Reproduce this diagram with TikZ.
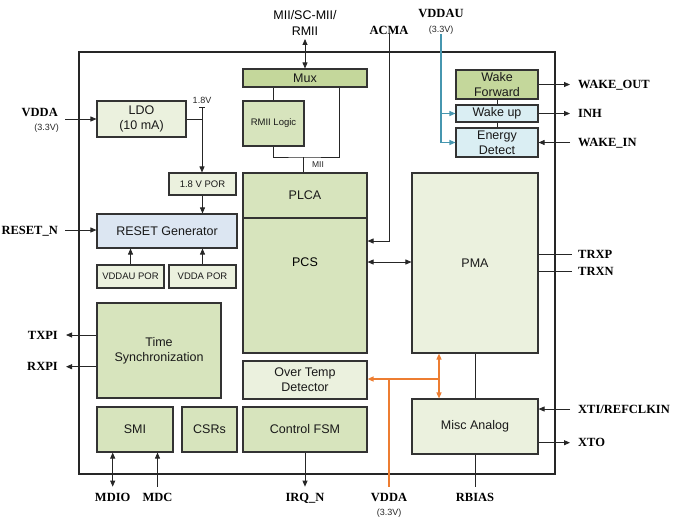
\documentclass[tikz,border=0pt]{standalone}
\usepackage{fontspec}
\setmainfont{Liberation Sans}
\newfontfamily\pinfont{Liberation Serif}
\usetikzlibrary{arrows.meta}
\definecolor{muxgreen}{RGB}{196,215,155}
\definecolor{blkgreen}{RGB}{215,228,189}
\definecolor{palegreen}{RGB}{235,241,222}
\definecolor{rstblue}{RGB}{220,230,242}
\definecolor{wakeblue}{RGB}{218,238,243}
\definecolor{vddorange}{RGB}{237,125,49}
\definecolor{vddteal}{RGB}{70,150,175}
\begin{document}
\begin{tikzpicture}[x=1pt,y=-1pt,
    >={Triangle[length=6pt,width=5pt]},
    blk/.style={draw=black!80,line width=1.1pt,inner sep=1pt,align=center,text=black!90,font=\fontsize{12.5}{15}\selectfont},
    small/.style={font=\fontsize{9}{11}\selectfont,text=black!85},
    pin/.style={font=\pinfont\bfseries\fontsize{12.5}{14}\selectfont,inner sep=0pt,text height=8.3pt,text depth=0pt},
    wire/.style={line width=0.8pt,draw=black!85},
    tealwire/.style={line width=1.2pt,draw=vddteal},
    orwire/.style={line width=1.3pt,draw=vddorange}]
    \useasboundingbox (0,0) rectangle (676,523);
    \draw[line width=1.8pt,black!85] (79,52) rectangle (555,474);

    \node[blk,fill=muxgreen,minimum width=124pt,minimum height=18pt] (mux) at (305,78) {Mux};
    \node[blk,fill=blkgreen,minimum width=61pt,minimum height=45pt,font=\fontsize{9.5}{11}\selectfont] (rmii) at (273.5,123.5) {RMII Logic};
    \node[blk,fill=blkgreen,minimum width=124pt,minimum height=45pt] (plca) at (305,195.5) {PLCA};
    \node[blk,fill=blkgreen,minimum width=124pt,minimum height=135pt] (pcs) at (305,285.5) {};
    \node[font=\fontsize{12.5}{15}\selectfont] (pcslbl) at (305,262) {PCS};
    \node[blk,fill=palegreen,minimum width=126pt,minimum height=180pt] (pma) at (475,263) {PMA};
    \node[blk,fill=muxgreen,minimum width=82pt,minimum height=29pt] (wakefwd) at (497,84.5) {Wake\\Forward};
    \node[blk,fill=wakeblue,minimum width=82pt,minimum height=17pt] (wakeup) at (497,113.5) {Wake up};
    \node[blk,fill=wakeblue,minimum width=82pt,minimum height=29pt] (energy) at (497,142.5) {Energy\\Detect};
    \node[blk,fill=palegreen,minimum width=89pt,minimum height=36pt] (ldo) at (141.5,119) {LDO\\(10 mA)};
    \node[blk,fill=palegreen,minimum width=67pt,minimum height=22pt,font=\fontsize{9.5}{11}\selectfont] (por18) at (202.5,184) {1.8 V POR};
    \node[blk,fill=rstblue,minimum width=140pt,minimum height=34pt] (reset) at (167,231) {RESET Generator};
    \node[blk,fill=palegreen,minimum width=67pt,minimum height=23pt,font=\fontsize{9.5}{11}\selectfont] (vddaupor) at (130.5,276.5) {VDDAU POR};
    \node[blk,fill=palegreen,minimum width=67pt,minimum height=23pt,font=\fontsize{9.5}{11}\selectfont] (vddapor) at (202.5,276.5) {VDDA POR};
    \node[blk,fill=blkgreen,minimum width=124pt,minimum height=95pt] (timesync) at (159,350.5) {Time\\Synchronization};
    \node[blk,fill=blkgreen,minimum width=76pt,minimum height=45pt] (smi) at (135,429.5) {SMI};
    \node[blk,fill=blkgreen,minimum width=55pt,minimum height=45pt] (csrs) at (209.5,429.5) {CSRs};
    \node[blk,fill=palegreen,minimum width=124pt,minimum height=38pt] (otemp) at (305,380) {Over Temp\\Detector};
    \node[blk,fill=blkgreen,minimum width=124pt,minimum height=45pt] (fsm) at (305,429.5) {Control FSM};
    \node[blk,fill=palegreen,minimum width=126pt,minimum height=55pt] (misc) at (475,426.5) {Misc Analog};

    \node[align=center,inner sep=0pt,font=\fontsize{12.5}{16.5}\selectfont] (miibus) at (305,23) {MII/SC-MII/\\RMII};
    \node[pin] (acma) at (389,30) {ACMA};
    \node[pin] (vddau) at (441,13) {VDDAU};
    \node[small,inner sep=0pt] (vddauv) at (441,30) {(3.3V)};
    \node[pin,anchor=east] (vdda) at (58,112.7) {VDDA};
    \node[small,inner sep=0pt,anchor=east] (vddav) at (59,127.7) {(3.3V)};
    \node[pin,anchor=east] (resetn) at (58,230) {RESET\_N};
    \node[pin,anchor=east] (txpi) at (58,335) {TXPI};
    \node[pin,anchor=east] (rxpi) at (58,366.7) {RXPI};
    \node[pin,anchor=west] (wakeout) at (578,84.5) {WAKE\_OUT};
    \node[pin,anchor=west] (inh) at (578,113.5) {INH};
    \node[pin,anchor=west] (wakein) at (578,142.5) {WAKE\_IN};
    \node[pin,anchor=west] (trxp) at (578,254) {TRXP};
    \node[pin,anchor=west] (trxn) at (578,271.7) {TRXN};
    \node[pin,anchor=west] (xti) at (578,409) {XTI/REFCLKIN};
    \node[pin,anchor=west] (xto) at (578,442.7) {XTO};
    \node[pin] (mdio) at (112.7,497) {MDIO};
    \node[pin] (mdc) at (157.5,497) {MDC};
    \node[pin] (irqn) at (305,497) {IRQ\_N};
    \node[pin] (vddab) at (389,497) {VDDA};
    \node[small,inner sep=0pt] (vddabv) at (389,513) {(3.3V)};
    \node[pin] (rbias) at (475,497) {RBIAS};
    \node[small,inner sep=0pt] (v18lbl) at (202,100) {1.8V};
    \node[small,inner sep=0pt,font=\fontsize{8.5}{10}\selectfont] (miilbl) at (318,165) {MII};

    \coordinate (v18) at (202,107);
    \coordinate (mii) at (303,157);
    \coordinate (vddain) at (65,119);
    \coordinate (ojoin) at (439,379);

    \draw[wire,<->,shorten <=3pt] (miibus.south) -- (mux.north);
    \draw[wire] (rmii.north) -- (rmii.north |- mux.south);
    \draw[wire] ([xshift=-28pt]mux.south east) |- (mii) -| (rmii.south);
    \draw[wire] (mii) -- (mii |- plca.north);
    \draw[wire,->] (acma.south) |- (pcs.east |- 0,241);
    \draw[wire,<->] (pcs.east |- 0,262) -- (pma.west |- 0,262);
    \draw[tealwire] (vddauv.south) |- (energy.west);
    \draw[tealwire,->] (energy.west -| vddauv.south) |- (energy.west);
    \draw[tealwire,->] (wakeup.west -| vddauv.south) -- (wakeup.west);
    \draw[wire] (wakefwd) -- (wakeup);
    \draw[wire] (wakeup) -- (energy);
    \draw[wire,->,shorten >=8pt] (wakefwd.east) -- (wakefwd.east -| wakeout.west);
    \draw[wire,->,shorten >=8pt] (wakeup.east) -- (wakeup.east -| inh.west);
    \draw[wire,->,shorten <=8pt] (energy.east -| wakein.west) -- (energy.east);
    \draw[wire,shorten >=6pt] (pma.east |- trxp.west) -- (trxp.west);
    \draw[wire,shorten >=6pt] (pma.east |- trxn.west) -- (trxn.west);
    \draw[wire,->,shorten <=8pt] (xti.west) -- (misc.east |- xti.west);
    \draw[wire,->,shorten >=8pt] (misc.east |- xto.west) -- (xto.west);
    \draw[wire] (pma.south) -- (misc.north);
    \draw[wire,shorten >=6pt] (misc.south) -- (rbias.north);
    \draw[orwire,<->] (pma.south -| ojoin) -- (misc.north -| ojoin);
    \draw[orwire,->] (ojoin) -- (otemp.east |- ojoin);
    \draw[orwire,shorten <=6pt] (vddab.north) -- (vddab.north |- ojoin);
    \draw[wire,->,shorten >=6pt] (fsm.south) -- (irqn.north);
    \draw[wire,<->,shorten >=6pt] (smi.south -| mdio.north) -- (mdio.north);
    \draw[wire,->,shorten <=6pt] (mdc.north) -- (smi.south -| mdc.north);
    \draw[wire,->,shorten >=8pt] (timesync.west |- txpi.east) -- (txpi.east);
    \draw[wire,->,shorten >=8pt] (timesync.west |- rxpi.east) -- (rxpi.east);
    \draw[wire,->,shorten <=7pt] (resetn.east) -- (reset.west |- resetn.east);
    \draw[wire,->] (vddain) -- (ldo.west);
    \draw[wire] (ldo.east) -| (v18);
    \draw[wire,->] (v18) -- (v18 |- por18.north);
    \draw[wire] ([xshift=-3pt]v18) -- ([xshift=3pt]v18);
    \draw[wire,->] (por18.south) -- (reset.north -| por18.south);
    \draw[wire,->] (vddaupor.north) -- (reset.south -| vddaupor.north);
    \draw[wire,->] (vddapor.north) -- (reset.south -| vddapor.north);
\end{tikzpicture}
\end{document}
